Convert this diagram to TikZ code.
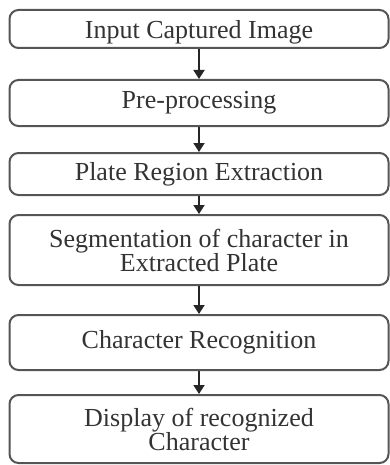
\documentclass[tikz,border=0pt]{standalone}
\usepackage{fontspec}
\setmainfont{Liberation Serif}
\usetikzlibrary{arrows.meta}
\definecolor{txt}{HTML}{333333}
\definecolor{edge}{HTML}{555555}
\begin{document}
\begin{tikzpicture}[x=0.5pt,y=-0.5pt,
  stepbox/.style={draw=edge,line width=1pt,rounded corners=4.5pt,minimum width=189.5pt,
    text=txt,font=\fontsize{13}{12}\selectfont,align=center,inner sep=0pt},
  flow/.style={draw=black!85,line width=0.9pt,-{Triangle[width=5.5pt,length=4.5pt]}}]
\useasboundingbox (0,0) rectangle (390,465);
\node[stepbox,minimum height=19pt,text height=12pt] (b1) at (199,29) {Input Captured Image};
\node[stepbox,minimum height=23pt] (b2) at (199,103) {Pre-processing};
\node[stepbox,minimum height=21pt] (b3) at (199,174) {Plate Region Extraction};
\node[stepbox,minimum height=35pt] (b4) at (199,250) {Segmentation of character in\\Extracted Plate};
\node[stepbox,minimum height=27.5pt] (b5) at (199,342.5) {Character Recognition};
\node[stepbox,minimum height=34pt] (b6) at (199,429) {Display of recognized\\Character};
\draw[flow] (b1) -- (b2);
\draw[flow] (b2) -- (b3);
\draw[flow] (b3) -- (b4);
\draw[flow] (b4) -- (b5);
\draw[flow] (b5) -- (b6);
\end{tikzpicture}
\end{document}
